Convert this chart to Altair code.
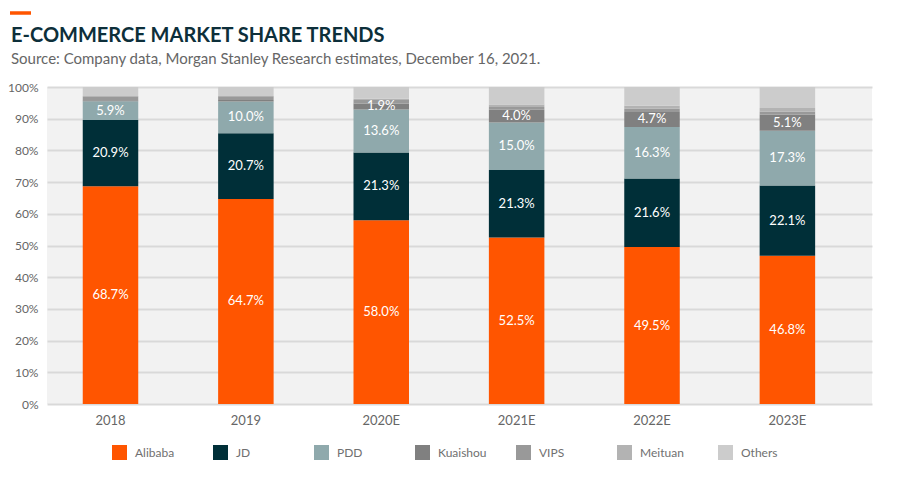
import altair as alt
import pandas as pd

years = ["2018", "2019", "2020E", "2021E", "2022E", "2023E"]
series = ["Alibaba", "JD", "PDD", "Kuaishou", "VIPS", "Meituan", "Others"]
colors = ["#FF5500", "#002F38", "#8FA9AC", "#808080", "#999999", "#B3B3B3", "#CCCCCC"]

alibaba = [68.7, 64.7, 58.0, 52.5, 49.5, 46.8]
jd = [20.9, 20.7, 21.3, 21.3, 21.6, 22.1]
pdd = [5.9, 10.0, 13.6, 15.0, 16.3, 17.3]
kuaishou = [0.3, 0.5, 1.9, 4.0, 4.7, 5.1]
vips = [1.3, 1.2, 1.1, 0.9, 1.0, 0.9]
meituan = [0.0, 0.1, 0.4, 0.8, 1.0, 1.2]
others = [2.9, 2.8, 3.7, 5.5, 5.9, 6.6]

# which segments carry a value label
label_alibaba = [True] * 6
label_jd = [True] * 6
label_pdd = [True] * 6
label_kuaishou = [False, False, True, True, True, True]
label_none = [False] * 6

values = [alibaba, jd, pdd, kuaishou, vips, meituan, others]
labels = [label_alibaba, label_jd, label_pdd, label_kuaishou, label_none, label_none, label_none]

rows = []
for si, (name, vals, labs) in enumerate(zip(series, values, labels)):
    for yi, yr in enumerate(years):
        rows.append({
            "year": yr,
            "series": name,
            "value": vals[yi],
            "order": si,
            "label": f"{vals[yi]:.1f}%" if labs[yi] else "",
        })
df = pd.DataFrame(rows)

FONT = "Lato"

x_enc = alt.X(
    "year:N",
    sort=years,
    title=None,
    scale=alt.Scale(paddingInner=0.59, paddingOuter=0.342, align=0.386),
    axis=alt.Axis(labelFont=FONT, labelFontSize=13, labelColor="#666666",
                  ticks=False, domain=False, labelPadding=10, labelAngle=0),
)

y_axis = alt.Axis(values=list(range(0, 101, 10)), labelExpr="datum.value + '%'",
                  labelFont=FONT, labelFontSize=12, labelColor="#666666",
                  labelOverlap=False, labelFlush=False, tickCount=11,
                  ticks=False, domain=False, labelPadding=9,
                  gridColor="#D9D9D9", gridWidth=2)
y_scale = alt.Scale(domain=[0, 100], nice=False)

bars = alt.Chart(df).mark_bar().encode(
    x=x_enc,
    y=alt.Y("value:Q", stack="zero", title=None, scale=y_scale, axis=y_axis),
    color=alt.Color(
        "series:N",
        sort=series,
        scale=alt.Scale(domain=series, range=colors),
        legend=alt.Legend(
            orient="none", legendX=65, legendY=358, direction="horizontal",
            columns=7, gridAlign="all", symbolType="square", symbolSize=225,
            symbolStrokeWidth=0, labelFont=FONT, labelFontSize=12,
            labelColor="#707070", labelOffset=8, columnPadding=29, title=None,
        ),
    ),
    order=alt.Order("order:Q", sort="ascending"),
)

texts = alt.Chart(df).transform_stack(
    stack="value", groupby=["year"], sort=[alt.SortField("order", order="ascending")],
    as_=["v0", "v1"],
).transform_calculate(
    mid="(datum.v0 + datum.v1) / 2"
).transform_filter(
    "datum.label != ''"
).mark_text(font=FONT, fontSize=13, color="white", baseline="middle").encode(
    x=alt.X("year:N", sort=years),
    y=alt.Y("mid:Q", title=None, scale=y_scale, axis=y_axis),
    text="label:N",
)

dash = alt.Chart(pd.DataFrame({"a": [0]})).mark_rule(
    color="#FF5500", strokeWidth=3.5
).encode(
    x=alt.value(-37), x2=alt.value(-16), y=alt.value(-74)
)

chart = alt.layer(bars, texts, dash).properties(
    width=825,
    height=317,
    padding={"left": 39, "top": 79, "right": 20, "bottom": 66},
    autosize=alt.AutoSizeParams(type="none"),
    title=alt.TitleParams(
        text="E-COMMERCE MARKET SHARE TRENDS",
        subtitle="Source: Company data, Morgan Stanley Research estimates, December 16, 2021.",
        anchor="start", frame="group", dx=-36, offset=-56,
        font=FONT, fontSize=20, fontWeight="bold", color="#0D2F3A",
        subtitleFont=FONT, subtitleFontSize=15, subtitleColor="#666666",
        subtitlePadding=6,
    ),
).configure_view(fill="#F2F2F2", strokeWidth=0)

chart.save("out.html", embed_options={"renderer": "svg", "actions": False})
